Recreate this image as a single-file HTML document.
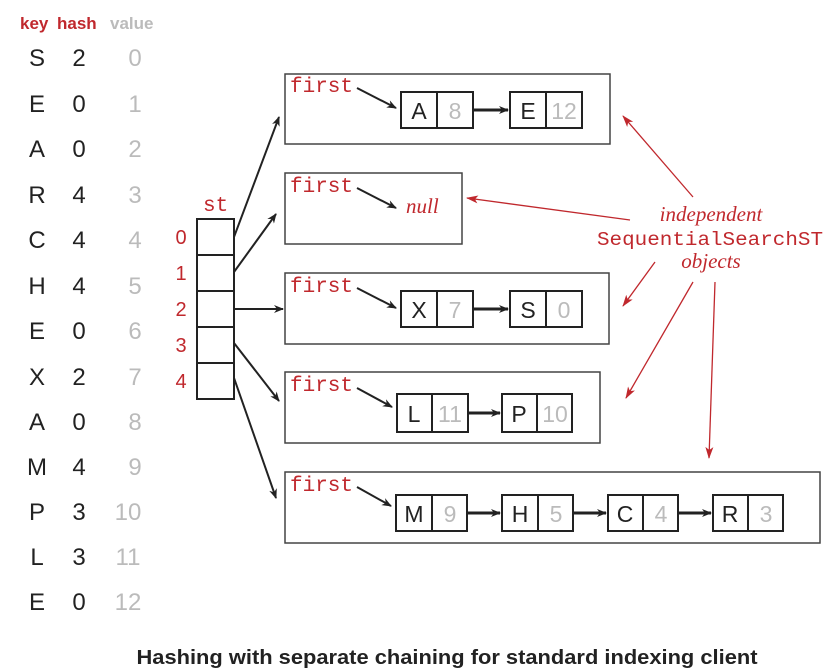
<!DOCTYPE html>
<html><head><meta charset="utf-8"><style>
html,body{margin:0;padding:0;background:#fff;}
svg{display:block;}
.k{font-family:"Liberation Sans",sans-serif;font-size:24px;fill:#222;}
.v{font-family:"Liberation Sans",sans-serif;font-size:24px;fill:#bbb;}
.m{font-family:"Liberation Mono",monospace;font-size:21px;fill:#c0282d;}
.it{font-family:"Liberation Serif",serif;font-style:italic;font-size:21px;fill:#c0282d;}
.r{font-family:"Liberation Sans",sans-serif;font-size:20px;fill:#c0282d;}
</style></head><body>
<svg width="833" height="672" viewBox="0 0 833 672" xmlns="http://www.w3.org/2000/svg">
<defs>
<marker id="ab" markerWidth="10" markerHeight="8" refX="9" refY="4" orient="auto" markerUnits="userSpaceOnUse"><path d="M0,0 L10,4 L0,8 L3,4z" fill="#222"/></marker>
<marker id="ar" markerWidth="12" markerHeight="8" refX="11" refY="4" orient="auto" markerUnits="userSpaceOnUse"><path d="M0,0 L12,4 L0,8 L3,4z" fill="#c0282d"/></marker>
</defs>
<text x="20" y="29" font-family="Liberation Sans" font-weight="bold" font-size="17" fill="#c0282d">key</text>
<text x="57" y="29" font-family="Liberation Sans" font-weight="bold" font-size="17" fill="#c0282d">hash</text>
<text x="110" y="29" font-family="Liberation Sans" font-weight="bold" font-size="17" fill="#bbb">value</text>
<g text-anchor="middle">
<text class="k" x="37" y="66">S</text><text class="k" x="79" y="66">2</text><text class="v" x="135" y="66">0</text>
<text class="k" x="37" y="112">E</text><text class="k" x="79" y="112">0</text><text class="v" x="135" y="112">1</text>
<text class="k" x="37" y="157">A</text><text class="k" x="79" y="157">0</text><text class="v" x="135" y="157">2</text>
<text class="k" x="37" y="203">R</text><text class="k" x="79" y="203">4</text><text class="v" x="135" y="203">3</text>
<text class="k" x="37" y="248">C</text><text class="k" x="79" y="248">4</text><text class="v" x="135" y="248">4</text>
<text class="k" x="37" y="294">H</text><text class="k" x="79" y="294">4</text><text class="v" x="135" y="294">5</text>
<text class="k" x="37" y="339">E</text><text class="k" x="79" y="339">0</text><text class="v" x="135" y="339">6</text>
<text class="k" x="37" y="385">X</text><text class="k" x="79" y="385">2</text><text class="v" x="135" y="385">7</text>
<text class="k" x="37" y="430">A</text><text class="k" x="79" y="430">0</text><text class="v" x="135" y="430">8</text>
<text class="k" x="37" y="475">M</text><text class="k" x="79" y="475">4</text><text class="v" x="135" y="475">9</text>
<text class="k" x="37" y="520">P</text><text class="k" x="79" y="520">3</text><text class="v" x="128" y="520">10</text>
<text class="k" x="37" y="565">L</text><text class="k" x="79" y="565">3</text><text class="v" x="128" y="565">11</text>
<text class="k" x="37" y="610">E</text><text class="k" x="79" y="610">0</text><text class="v" x="128" y="610">12</text>
</g>
<text class="m" x="203" y="211">st</text>
<g class="r" text-anchor="middle">
<text x="181" y="244">0</text><text x="181" y="280">1</text><text x="181" y="316">2</text><text x="181" y="352">3</text><text x="181" y="388">4</text>
</g>
<g fill="none" stroke="#222" stroke-width="2">
<rect x="197" y="219" width="37" height="180"/>
<line x1="197" y1="255" x2="234" y2="255"/><line x1="197" y1="291" x2="234" y2="291"/>
<line x1="197" y1="327" x2="234" y2="327"/><line x1="197" y1="363" x2="234" y2="363"/>
</g>
<g stroke="#222" stroke-width="2" marker-end="url(#ab)">
<line x1="234" y1="237" x2="279" y2="117"/>
<line x1="234" y1="272" x2="276" y2="214"/>
<line x1="234" y1="309" x2="283" y2="309"/>
<line x1="234" y1="343" x2="279" y2="401"/>
<line x1="234" y1="378" x2="276" y2="498"/>
</g>
<g fill="none" stroke="#444" stroke-width="1.5">
<rect x="285" y="74" width="325" height="70"/>
<rect x="285" y="173" width="177" height="71"/>
<rect x="285" y="273" width="324" height="71"/>
<rect x="285" y="372" width="315" height="71"/>
<rect x="285" y="472" width="535" height="71"/>
</g>
<g class="m">
<text x="290" y="92">first</text><text x="290" y="192">first</text><text x="290" y="292">first</text><text x="290" y="391">first</text><text x="290" y="491">first</text>
</g>
<g stroke="#222" stroke-width="2" marker-end="url(#ab)">
<line x1="357" y1="88" x2="396" y2="108"/>
<line x1="357" y1="188" x2="396" y2="208"/>
<line x1="357" y1="288" x2="396" y2="308"/>
<line x1="357" y1="388" x2="392" y2="407"/>
<line x1="357" y1="487" x2="391" y2="506"/>
</g>
<text class="it" x="406" y="213">null</text>
<g fill="none" stroke="#222" stroke-width="2">
<rect x="401" y="92" width="72" height="36"/><line x1="437" y1="92" x2="437" y2="128"/>
<rect x="510" y="92" width="72" height="36"/><line x1="546" y1="92" x2="546" y2="128"/>
<rect x="401" y="291" width="72" height="36"/><line x1="437" y1="291" x2="437" y2="327"/>
<rect x="510" y="291" width="72" height="36"/><line x1="546" y1="291" x2="546" y2="327"/>
<rect x="397" y="394" width="71" height="38"/><line x1="432" y1="394" x2="432" y2="432"/>
<rect x="502" y="394" width="70" height="38"/><line x1="537" y1="394" x2="537" y2="432"/>
<rect x="396" y="495" width="71" height="36"/><line x1="432" y1="495" x2="432" y2="531"/>
<rect x="502" y="495" width="71" height="36"/><line x1="538" y1="495" x2="538" y2="531"/>
<rect x="608" y="495" width="70" height="36"/><line x1="643" y1="495" x2="643" y2="531"/>
<rect x="713" y="495" width="70" height="36"/><line x1="748" y1="495" x2="748" y2="531"/>
</g>
<g stroke="#222" stroke-width="3" marker-end="url(#ab)">
<line x1="473" y1="110" x2="508" y2="110"/>
<line x1="473" y1="309" x2="508" y2="309"/>
<line x1="468" y1="413" x2="500" y2="413"/>
<line x1="467" y1="513" x2="500" y2="513"/>
<line x1="573" y1="513" x2="606" y2="513"/>
<line x1="678" y1="513" x2="711" y2="513"/>
</g>
<g text-anchor="middle" font-family="Liberation Sans" font-size="23">
<text x="419" y="119" fill="#222">A</text><text x="455" y="119" fill="#bbb">8</text>
<text x="528" y="119" fill="#222">E</text><text x="564" y="119" fill="#bbb">12</text>
<text x="419" y="318" fill="#222">X</text><text x="455" y="318" fill="#bbb">7</text>
<text x="528" y="318" fill="#222">S</text><text x="564" y="318" fill="#bbb">0</text>
<text x="414" y="422" fill="#222">L</text><text x="450" y="422" fill="#bbb">11</text>
<text x="519" y="422" fill="#222">P</text><text x="555" y="422" fill="#bbb">10</text>
<text x="414" y="522" fill="#222">M</text><text x="450" y="522" fill="#bbb">9</text>
<text x="520" y="522" fill="#222">H</text><text x="556" y="522" fill="#bbb">5</text>
<text x="625" y="522" fill="#222">C</text><text x="661" y="522" fill="#bbb">4</text>
<text x="730" y="522" fill="#222">R</text><text x="766" y="522" fill="#bbb">3</text>
</g>
<text class="it" x="711" y="221" text-anchor="middle">independent</text>
<text x="597" y="245" font-family="Liberation Mono" font-size="19" fill="#c0282d" textLength="226" lengthAdjust="spacingAndGlyphs">SequentialSearchST</text>
<text class="it" x="711" y="268" text-anchor="middle">objects</text>
<g stroke="#c0282d" stroke-width="1.3" marker-end="url(#ar)">
<line x1="693" y1="197" x2="623" y2="116"/>
<line x1="630" y1="220" x2="467" y2="198"/>
<line x1="655" y1="262" x2="623" y2="306"/>
<line x1="693" y1="282" x2="626" y2="398"/>
<line x1="715" y1="282" x2="709" y2="458"/>
</g>
<text x="447" y="664" text-anchor="middle" font-family="Liberation Sans" font-weight="bold" font-size="20" fill="#222" textLength="621" lengthAdjust="spacingAndGlyphs">Hashing with separate chaining for standard indexing client</text>
</svg>
</body></html>
